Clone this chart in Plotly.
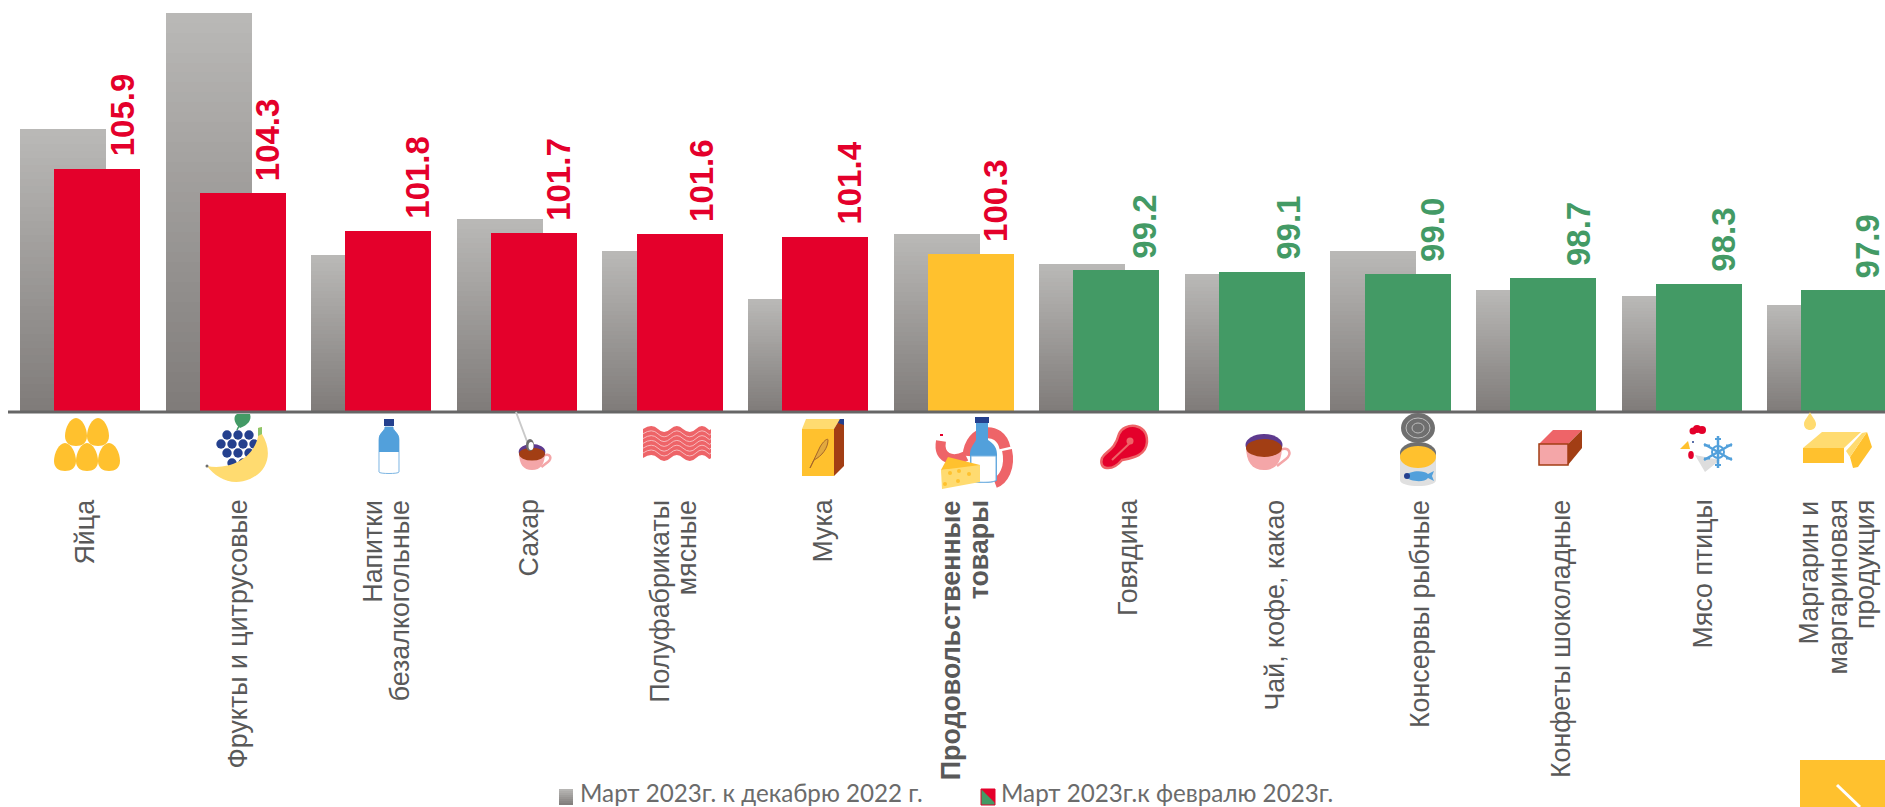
import re
import plotly.graph_objects as go

categories = ["Яйца", "Фрукты и цитрусовые", "Напитки безалкогольные", "Сахар", "Полуфабрикаты мясные", "Мука",
              "Продовольственные товары", "Говядина", "Чай, кофе, какао", "Консервы рыбные",
              "Конфеты шоколадные", "Мясо птицы", "Маргарин и маргариновая продукция"]
tick_lines = [["Яйца"], ["Фрукты и цитрусовые"], ["Напитки", "безалкогольные"], ["Сахар"], ["Полуфабрикаты", "мясные"], ["Мука"],
              ["<b>Продовольственные</b>", "<b>товары</b>"], ["Говядина"], ["Чай, кофе, какао"], ["Консервы рыбные"],
              ["Конфеты шоколадные"], ["Мясо птицы"], ["Маргарин и", "маргариновая", "продукция"]]
march_to_dec = [108.5, 116.2, 100.2, 102.6, 100.5, 97.3, 101.6, 99.65, 99.0, 100.5, 97.9, 97.5, 96.9]
march_to_feb = [105.9, 104.3, 101.8, 101.7, 101.6, 101.4, 100.3, 99.2, 99.1, 99.0, 98.7, 98.3, 97.9]
legend_labels = ["Март 2023г. к декабрю 2022 г.", "Март 2023г.к февралю 2023г."]

RED, GREEN, YELLOW = "#E4002B", "#439A65", "#FFC12E"
TOTAL = "Продовольственные товары"
W, H, BASE_PX = 1885, 807, 412
Y0, PX_PER_UNIT = 89.87, 15.17
PERIOD, CENTER0 = 145.6, 80.0
BAR_W, GRAY_OFF, RED_OFF = 86 / PERIOD, -60 / PERIOD, -25.8 / PERIOD
# where the category captions sit, in page pixels: they are hand-placed in the reference
LABEL_X = [84, 237, 386, 528, 673, 822, 965, 1128, 1274, 1420, 1561, 1702, 1837]
LABEL_TOP, LABEL_STEP, LABEL_SIZE = 498, 27.6, 26.8
# small hand offsets of the value labels
VALUE_DX = [0, 0, 4, -1, -3, 0, 0, 3, 2, 0, 0, 0, -2]


def bar_colour(cat, v):
    return YELLOW if cat == TOTAL else RED if v > 100 else GREEN


def mix(t):
    a, b = (186, 185, 183), (127, 123, 121)
    return "rgb(%d,%d,%d)" % tuple(round(a[i] + (b[i] - a[i]) * t) for i in range(3))


fig = go.Figure()
N = 40
for k in range(N):
    fig.add_trace(go.Bar(
        x=categories,
        y=[(v - Y0) / N for v in march_to_dec],
        base=[v - (v - Y0) * (k + 1) / N for v in march_to_dec],
        width=BAR_W, offset=GRAY_OFF, marker=dict(color=mix((k + .5) / N), line=dict(width=0)),
        hoverinfo="skip", showlegend=False))
fig.add_trace(go.Bar(
    x=categories, y=[v - Y0 for v in march_to_feb], base=Y0, width=BAR_W, offset=RED_OFF,
    marker=dict(color=[bar_colour(c, v) for c, v in zip(categories, march_to_feb)], line=dict(width=0)),
    customdata=march_to_feb, hovertemplate="%{x}: %{customdata}<extra></extra>", showlegend=False))

ann = []
for c, v, dx in zip(categories, march_to_feb, VALUE_DX):
    ann.append(dict(x=c, y=v, xref="x", yref="y", text=f"<b>{v:.1f}</b>", textangle=-90, showarrow=False,
                    xanchor="center", yanchor="bottom", xshift=42 + dx, yshift=10,
                    font=dict(family="Liberation Sans", size=33, color=RED if v > 100 else GREEN)))
for i, (c, lines, lx) in enumerate(zip(categories, tick_lines, LABEL_X)):
    for j, t in enumerate(lines):
        ann.append(dict(x=c, y=(BASE_PX - LABEL_TOP) / BASE_PX, xref="x", yref="paper", text=t, textangle=-90, showarrow=False,
                        xanchor="center", yanchor="top",
                        xshift=lx - (CENTER0 + i * PERIOD) + (j - (len(lines) - 1) / 2) * LABEL_STEP,
                        font=dict(family="Liberation Sans", size=LABEL_SIZE, color="#595959")))
for lab, lx in zip(legend_labels, (578, 999)):
    ann.append(dict(x=lx / W, y=(BASE_PX - 792.5) / BASE_PX, xref="paper", yref="paper", text=lab, showarrow=False,
                    xanchor="left", yanchor="middle", font=dict(family="Lato", size=24.2, color="#6b6b6b")))

shapes = []
px = lambda x: x / W
py = lambda y: (BASE_PX - y) / BASE_PX


def path(d, fill=None, ox=0, oy=0, s=1, line=None, lw=1):
    toks = re.findall(r"[A-Za-z]|-?\d+\.?\d*", d)
    out, i = [], 0
    for t in toks:
        if t.isalpha():
            out.append(t)
        else:
            if i % 2 == 0:
                out.append(f"{px(ox + float(t) * s):.5f}")
            else:
                out.append(f"{py(oy + float(t) * s):.5f}")
            i += 1
    shapes.append(dict(type="path", xref="paper", yref="paper", path=" ".join(out),
                       fillcolor=fill if fill else "rgba(0,0,0,0)",
                       line=dict(width=lw if line else 0, color=line or "rgba(0,0,0,0)")))


def oval(cx, cy, rx, ry, fill, line=None, lw=1):
    shapes.append(dict(type="circle", xref="paper", yref="paper", x0=px(cx - rx), x1=px(cx + rx), y0=py(cy + ry), y1=py(cy - ry),
                       fillcolor=fill if fill else "rgba(0,0,0,0)",
                       line=dict(width=lw if line else 0, color=line or "rgba(0,0,0,0)")))


def rect(x0, y0, x1, y1, fill, line=None, lw=1):
    shapes.append(dict(type="rect", xref="paper", yref="paper", x0=px(x0), x1=px(x1), y0=py(y1), y1=py(y0),
                       fillcolor=fill, line=dict(width=lw if line else 0, color=line or "rgba(0,0,0,0)")))


def seg(x0, y0, x1, y1, c, w):
    shapes.append(dict(type="line", xref="paper", yref="paper", x0=px(x0), x1=px(x1), y0=py(y0), y1=py(y1),
                       line=dict(color=c, width=w)))


def egg(cx, cy):
    path("M0 -14 C6 -14 11 -4 11 4 C11 11 6 14 0 14 C-6 14 -11 11 -11 4 C-11 -4 -6 -14 0 -14 Z", YELLOW, cx, cy)


def cup(cx, cy, s=1.0, rim="#5E3A8E"):
    path("M-18 -6 C-18 10 -12 18 0 18 C12 18 18 10 18 -6 Z", "#F4A6A8", cx, cy, s)
    path("M16 -2 C26 -6 28 2 22 7 L13 14", None, cx, cy, s, "#F4A6A8", 2.5)
    oval(cx, cy - 7 * s, 18.5 * s, 11 * s, rim)
    oval(cx, cy - 4 * s, 18 * s, 9 * s, "#A23E14")


def wave(y, reverse=False):
    xs = [643, 658, 670.5, 683, 696, 708, 711]
    ctr = [(652, -6), (664, 6), (677, -6), (690, 6), (702, -6), (709.5, 2)]
    if not reverse:
        d = f"M643 {y}"
        for x, (cx, dy) in zip(xs[1:], ctr):
            d += f" Q{cx} {y + dy} {x} {y}"
        return d
    d = ""
    for i in range(len(ctr) - 1, -1, -1):
        d += f" Q{ctr[i][0]} {y + ctr[i][1]} {xs[i]} {y}"
    return d


# Axis line
seg(8, 412, 1885, 412, "#666666", 3)

# Eggs
for cx, cy in [(76, 432), (98, 432), (65, 457), (87, 457), (109, 457)]:
    egg(cx, cy)

# Fruit
path("M240 424 L237 430", None, line=GREEN, lw=1.5)
path("M240 428 C232 422 234 414 238 414 L250 414 C252 420 248 425 240 428 Z", GREEN)
for gx, gy in [(227, 435), (238, 435), (249, 435), (221, 444), (232, 444), (243, 444), (254, 444),
               (227, 453), (238, 453), (249, 453), (232, 463), (243, 463)]:
    oval(gx, gy, 4.7, 4.7, "#24408E")
path("M207 466 C225 470 252 462 258 437 L258 428 L262 427 L262 434 C272 450 270 470 250 479 C232 487 216 478 207 466 Z", "#FFDB70")
path("M258 436 L258 428 L262 427 L262 434 Z", "#8CC56A")
oval(207, 466, 1.5, 1.5, "#6F6F6F")

# Bottle
rect(384, 419, 394, 426, "#24408E")
path("M385 427 L393 427 C393 431 399 433 399 440 L399 472 C399 474 379 474 379 472 L379 440 C379 433 385 431 385 427 Z", "#FFFFFF", line="#7DB6E3", lw=1)
path("M385 427 L393 427 C393 431 399 433 399 438 L399 452 L379 452 L379 438 C379 433 385 431 385 427 Z", "#52A0DB")

# Sugar cup
seg(516, 412, 528, 444, "#C9C9C9", 2)
cup(532, 457, .72)
oval(530, 445, 4, 6, "#6F6F6F")
oval(531, 446, 2.5, 4, "#FFFFFF")

# Bacon
path(wave(429) + " L711 458" + wave(458, True) + " Z", "#EE6468")
for k in range(1, 6):
    path(wave(429 + k * 4.8), None, line="#F8B9BC", lw=1)

# Flour
path("M802 429 L834 429 L834 476 L802 476 Z", YELLOW)
path("M802 429 L806 419 L840 419 L834 429 Z", "#FFDB70")
path("M834 429 L840 419 L844 419 L844 466 L834 476 Z", "#A23E14")
path("M840 419 L844 419 L844 425 L838 423 Z", "#24408E")
path("M810 468 L820 447 C824 440 828 438 828 440 C828 448 822 456 814 460 Z", "#E2A93E", line="#A5662A", lw=1)

# Food group
path("M941 441 C938 458 952 463 966 456", None, line="#EE6468", lw=10)
path("M968 456 C970 428 1000 425 1005 448", None, line="#EE6468", lw=11)
path("M1007 450 C1011 468 1003 480 995 483", None, line="#EE6468", lw=10)
rect(940, 434, 943, 436, RED)
rect(975, 417, 989, 423, "#24408E")
path("M976 423 L988 423 L988 440 C994 444 997 448 997 454 L997 480 C997 484 970 484 970 480 L970 454 C970 448 974 444 976 440 Z", "#52A0DB")
path("M971 456 L996 456 L996 480 C996 483 971 483 971 480 Z", "#FFFFFF", line="#7DB6E3", lw=1)
path("M941 470 L948 457 L980 465 L980 468 Z", YELLOW)
path("M941 470 L980 465 L980 482 L942 489 Z", "#FFDB70")
for ox_, oy_ in [(950, 473), (959, 471), (969, 474), (958, 481), (945, 484)]:
    oval(ox_, oy_, 2, 2, YELLOW)

# Beef
path("M1119 434 C1124 422 1148 422 1147 442 C1146 456 1132 458 1122 460 C1112 472 1098 470 1102 458 C1106 450 1114 452 1119 434 Z", RED, line="#EE6468", lw=2.5)
seg(1112, 460, 1130, 443, "#EE6468", 2)
oval(1130, 441, 3.5, 3.5, "#EE6468")

# Tea
cup(1264, 452, 1.0)

# Canned fish
oval(1418, 428, 17, 15, "#6F6F6F")
oval(1418, 428, 12, 10, None, "#BDBDBD", 1)
oval(1418, 428, 6, 5, None, "#BDBDBD", 1)
path("M1400 452 L1436 452 L1436 480 C1436 488 1400 488 1400 480 Z", "#E0E0E0")
oval(1418, 453, 18, 11, "#6F6F6F")
oval(1418, 457, 18, 11, YELLOW)
path("M1405 476 C1410 470 1424 470 1428 474 L1434 471 L1432 476 L1434 481 L1428 478 C1424 483 1410 482 1405 476 Z", "#52A0DB")
oval(1407, 476, 3, 3, "#24408E")

# Chocolate
path("M1539 444 L1553 430 L1582 430 L1568 444 Z", "#EE6468")
path("M1568 444 L1582 430 L1582 448 L1568 465 Z", "#A23E14")
rect(1539, 444, 1568, 465, "#F4A6A8", "#A23E14", 1.5)

# Poultry with a snowflake
path("M1695 455 L1720 460 L1705 472 Z", "#DDDDDD")
path("M1680 449 L1688 441 L1690 449 Z", YELLOW)
oval(1693, 431, 3.5, 3.5, RED)
oval(1697, 429, 4, 4, RED)
oval(1702, 430, 4, 4, RED)
oval(1691, 455, 2.8, 4, RED)
oval(1693, 442, 1, 1, "#24408E")
for dx, dy in [(0, 16), (14, 8), (14, -8)]:
    seg(1718 - dx, 452 - dy, 1718 + dx, 452 + dy, "#52A0DB", 2.5)
oval(1718, 452, 6, 6, None, "#52A0DB", 2)
for sx, sy in [(0, -13), (0, 13), (11, -6.5), (11, 6.5), (-11, -6.5), (-11, 6.5)]:
    seg(1718 + sx - 3, 452 + sy, 1718 + sx + 3, 452 + sy, "#52A0DB", 2)

# Margarine
path("M1803 448 L1844 448 L1844 463 L1803 463 Z", YELLOW)
path("M1803 448 L1822 432 L1861 432 L1844 448 Z", "#FFDB70")
path("M1850 457 L1867 432 L1872 447 L1858 467 L1853 468 Z", YELLOW)
path("M1850 457 L1867 432 L1862 433 L1846 451 Z", "#FFDB70")
path("M1810 412 C1812 417 1816 420 1816 424 C1816 432 1804 432 1804 424 C1804 420 1808 417 1810 412 Z", "#FFDB70")

# Legend swatches
for k in range(8):
    rect(559, 789 + 2 * k, 573, 791 + 2 * k, mix((k + .5) / 8))
rect(981, 789, 995, 805, GREEN, RED, 1)
path("M981 789 L995 789 L995 803 Z", RED)

# Corner badge
rect(1800, 760, 1885, 807, YELLOW)
seg(1837, 785, 1860, 807, "#FFFFFF", 3)

fig.update_layout(
    width=W, height=H, margin=dict(l=0, r=0, t=0, b=H - BASE_PX, autoexpand=False),
    barmode="overlay", bargap=0, plot_bgcolor="white", paper_bgcolor="white", showlegend=False,
    annotations=ann, shapes=shapes,
    xaxis=dict(type="category", categoryorder="array", categoryarray=categories, showticklabels=False,
               ticks="", showline=False, showgrid=False, zeroline=False, automargin=False,
               range=[-CENTER0 / PERIOD, (W - CENTER0) / PERIOD]),
    yaxis=dict(visible=False, range=[Y0, Y0 + BASE_PX / PX_PER_UNIT], fixedrange=True),
)
fig.write_html("out.html", config={"displayModeBar": False},
               post_script="document.body.style.margin='0';document.body.style.overflow='hidden';")
